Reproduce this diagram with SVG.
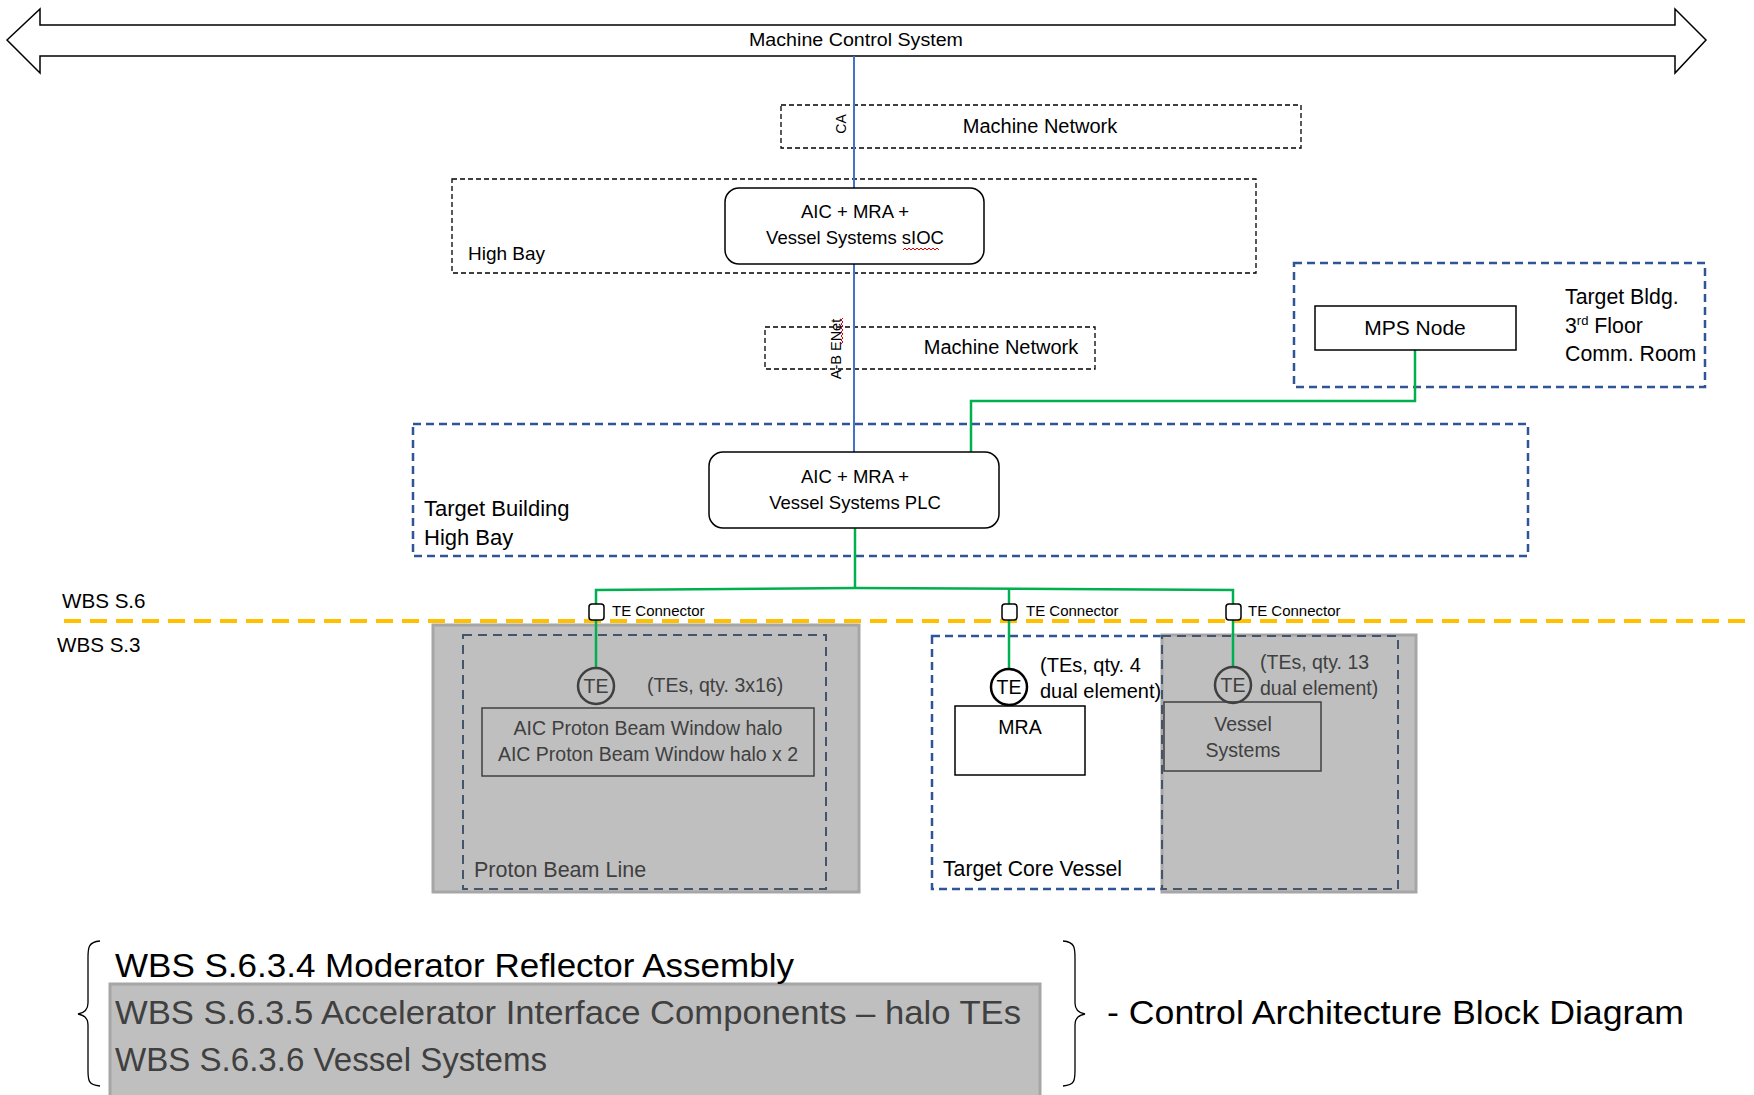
<svg xmlns="http://www.w3.org/2000/svg" width="1754" height="1095" viewBox="0 0 1754 1095">
  <style>
    text { font-family: "Liberation Sans", Arial, sans-serif; fill: #000; }
    .t17 { font-size: 18.5px; }
    .t18 { font-size: 19.5px; }
    .t19 { font-size: 19px; }
    .t20 { font-size: 20px; }
    .t21 { font-size: 21.3px; }
    .t13 { font-size: 15px; }
    .grey { fill: #404040; }
    .big { font-size: 33px; }
    .blk-dash { fill: none; stroke: #000; stroke-width: 1.3; stroke-dasharray: 5 3; }
    .blu-dash { fill: none; stroke: #2F5597; stroke-width: 2.5; stroke-dasharray: 8 5; }
    .blu-dash-in { fill: none; stroke: #44546A; stroke-width: 2; stroke-dasharray: 9 6; }
    .shade { fill: #BFBFBF; stroke: #A6A6A6; stroke-width: 3; }
    .box { fill: #fff; stroke: #000; stroke-width: 1.5; }
    .rbox { fill: #fff; stroke: #000; stroke-width: 1.5; }
    .gbox { fill: none; stroke: #404040; stroke-width: 1.5; }
    .green { fill: none; stroke: #00B050; stroke-width: 2.5; }
    .blue { fill: none; stroke: #4472C4; stroke-width: 2; }
    .te { fill: #fff; stroke: #000; stroke-width: 2.5; }
    .te-g { fill: none; stroke: #404040; stroke-width: 2.5; }
    .conn { fill: #fff; stroke: #000; stroke-width: 1.5; }
    .squig { fill: none; stroke: #E00000; stroke-width: 1; }
  </style>

  <!-- machine control system bus -->
  <g id="machine-control-system">
    <path d="M7,40 L40,9 L40,25 L1675,25 L1675,9 L1706,40 L1675,73 L1675,56 L40,56 L40,73 Z" fill="#fff" stroke="#000" stroke-width="1.5"/>
    <text x="856" y="46" font-size="17.5" text-anchor="middle" textLength="214" lengthAdjust="spacingAndGlyphs">Machine Control System</text>
  </g>

  <!-- zones -->
  <g id="machine-network-1">
    <rect class="blk-dash" x="781" y="105" width="520" height="43"/>
    <text x="1040" y="133" font-size="20" text-anchor="middle">Machine Network</text>
  </g>
  <g id="high-bay">
    <rect class="blk-dash" x="452" y="179" width="804" height="94"/>
    <text class="t19" x="468" y="260">High Bay</text>
  </g>
  <g id="machine-network-2">
    <rect class="blk-dash" x="765" y="327" width="330" height="42"/>
    <text x="1001" y="354" font-size="20" text-anchor="middle">Machine Network</text>
  </g>
  <g id="target-bldg-comm-room">
    <rect class="blu-dash" x="1294" y="263" width="411" height="124"/>
    <text class="t21" x="1565" y="304">Target Bldg.</text>
    <text class="t21" x="1565" y="333">3<tspan font-size="13" dy="-8">rd</tspan><tspan dy="8"> Floor</tspan></text>
    <text class="t21" x="1565" y="361">Comm. Room</text>
  </g>
  <g id="target-building-high-bay">
    <rect class="blu-dash" x="413" y="424" width="1115" height="132"/>
    <text x="424" y="516" font-size="22">Target Building</text>
    <text x="424" y="545" font-size="22">High Bay</text>
  </g>

  <!-- WBS boundary -->
  <g id="wbs-boundary">
    <line x1="64" y1="621" x2="1754" y2="621" stroke="#FFC000" stroke-width="4" stroke-dasharray="17 9"/>
    <text x="62" y="608" font-size="20.6">WBS S.6</text>
    <text x="57" y="652" font-size="20.6">WBS S.3</text>
  </g>

  <!-- lower zones -->
  <g id="proton-beam-line">
    <rect class="shade" x="433" y="625" width="426" height="267"/>
    <rect class="blu-dash-in" x="463" y="635" width="363" height="254"/>
    <text class="grey" x="474" y="877" font-size="21.5">Proton Beam Line</text>
  </g>
  <g id="target-core-vessel">
    <rect class="blu-dash" x="932" y="636" width="466" height="253"/>
    <text x="943" y="876" font-size="21.2">Target Core Vessel</text>
  </g>
  <g id="vessel-systems-zone">
    <rect class="shade" x="1162" y="635" width="254" height="257"/>
    <rect class="blu-dash-in" x="1162" y="636" width="236" height="253"/>
  </g>

  <!-- connectors -->
  <g id="connectors">
    <line class="blue" x1="854" y1="56" x2="854" y2="188"/>
    <line class="blue" x1="854" y1="264" x2="854" y2="453"/>
    <polyline class="green" points="1415,350 1415,401 971,401 971,453"/>
    <polyline class="green" points="855,528 855,588"/>
    <polyline class="green" points="596,605 596,590 855,588 1233,590 1233,605"/>
    <line class="green" x1="1009" y1="589" x2="1009" y2="605"/>
    <line class="green" x1="596" y1="620" x2="596" y2="668"/>
    <line class="green" x1="1009" y1="620" x2="1009" y2="669"/>
    <line class="green" x1="1233" y1="620" x2="1233" y2="667"/>
    <text transform="translate(846,124) rotate(-90)" font-size="14" text-anchor="middle">CA</text>
    <text transform="translate(841,349) rotate(-90)" font-size="14.5" text-anchor="middle">A-B ENet</text>
    <path class="squig" d="M843,318 l-2,2 l2,2 l-2,2 l2,2 l-2,2 l2,2 l-2,2 l2,2 l-2,2 l2,2 l-2,2 l2,2 l-2,2"/>
  </g>

  <!-- controllers -->
  <g id="sioc">
    <rect class="rbox" x="725" y="188" width="259" height="76" rx="14"/>
    <text class="t17" x="855" y="218" text-anchor="middle">AIC + MRA +</text>
    <text class="t17" x="855" y="244" text-anchor="middle">Vessel Systems sIOC</text>
    <path class="squig" d="M903,250 l2,-2 l2,2 l2,-2 l2,2 l2,-2 l2,2 l2,-2 l2,2 l2,-2 l2,2 l2,-2 l2,2 l2,-2 l2,2 l2,-2 l2,2 l2,-2 l2,2"/>
  </g>
  <g id="plc">
    <rect class="rbox" x="709" y="452" width="290" height="76" rx="14"/>
    <text class="t17" x="855" y="483" text-anchor="middle">AIC + MRA +</text>
    <text class="t17" x="855" y="509" text-anchor="middle">Vessel Systems PLC</text>
  </g>
  <g id="mps-node">
    <rect class="box" x="1315" y="306" width="201" height="44"/>
    <text x="1415" y="335" font-size="21" text-anchor="middle">MPS Node</text>
  </g>

  <!-- TE connectors -->
  <g id="te-connector-pbl">
    <rect class="conn" x="589" y="604" width="15" height="16" rx="3"/>
    <text class="t13" x="612" y="616">TE Connector</text>
  </g>
  <g id="te-connector-mra">
    <rect class="conn" x="1002" y="604" width="15" height="16" rx="3"/>
    <text class="t13" x="1026" y="616">TE Connector</text>
  </g>
  <g id="te-connector-vessel">
    <rect class="conn" x="1226" y="604" width="15" height="16" rx="3"/>
    <text class="t13" x="1248" y="616">TE Connector</text>
  </g>

  <!-- temperature elements and equipment -->
  <g id="te-pbl">
    <circle class="te-g" cx="596" cy="686" r="18"/>
    <text class="t18 grey" x="596" y="693" text-anchor="middle">TE</text>
    <text class="t18 grey" x="647" y="692">(TEs, qty. 3x16)</text>
  </g>
  <g id="aic-pbw-halo">
    <rect class="gbox" x="482" y="708" width="332" height="68"/>
    <text class="t18 grey" x="648" y="735" text-anchor="middle">AIC Proton Beam Window halo</text>
    <text class="t18 grey" x="648" y="761" text-anchor="middle">AIC Proton Beam Window halo x 2</text>
  </g>
  <g id="te-mra">
    <circle class="te" cx="1009" cy="687" r="18"/>
    <text class="t18" x="1009" y="694" text-anchor="middle">TE</text>
    <text x="1040" y="672" font-size="20">(TEs, qty. 4</text>
    <text x="1040" y="698" font-size="20">dual element)</text>
  </g>
  <g id="mra">
    <rect class="box" x="955" y="706" width="130" height="69"/>
    <text class="t18" x="1020" y="734" text-anchor="middle">MRA</text>
  </g>
  <g id="te-vessel">
    <circle class="te-g" cx="1233" cy="685" r="18"/>
    <text class="t18 grey" x="1233" y="692" text-anchor="middle">TE</text>
    <text class="grey" x="1260" y="669" font-size="19.5">(TEs, qty. 13</text>
    <text class="grey" x="1260" y="695" font-size="19.5">dual element)</text>
  </g>
  <g id="vessel-systems">
    <rect class="gbox" x="1164" y="702" width="157" height="69"/>
    <text class="t18 grey" x="1243" y="731" text-anchor="middle">Vessel</text>
    <text class="t18 grey" x="1243" y="757" text-anchor="middle">Systems</text>
  </g>

  <!-- title block -->
  <g id="title-block">
    <rect class="shade" x="110" y="984" width="930" height="113"/>
    <path d="M100,941 C88,942 88,948 88,958 L88,1003 C88,1010 84,1013 78,1014 C84,1015 88,1018 88,1025 L88,1070 C88,1080 88,1085 100,1086" fill="none" stroke="#000" stroke-width="1.3"/>
    <path d="M1063,941 C1075,942 1075,948 1075,958 L1075,1003 C1075,1010 1079,1013 1085,1014 C1079,1015 1075,1018 1075,1025 L1075,1070 C1075,1080 1075,1085 1063,1086" fill="none" stroke="#000" stroke-width="1.3"/>
    <text class="big" x="115" y="977" textLength="679" lengthAdjust="spacingAndGlyphs">WBS S.6.3.4 Moderator Reflector Assembly</text>
    <text class="big grey" x="115" y="1024" textLength="906" lengthAdjust="spacingAndGlyphs">WBS S.6.3.5 Accelerator Interface Components – halo TEs</text>
    <text class="big grey" x="115" y="1071" textLength="432" lengthAdjust="spacingAndGlyphs">WBS S.6.3.6 Vessel Systems</text>
    <text class="big" x="1107" y="1024" textLength="577" lengthAdjust="spacingAndGlyphs">- Control Architecture Block Diagram</text>
  </g>
</svg>
